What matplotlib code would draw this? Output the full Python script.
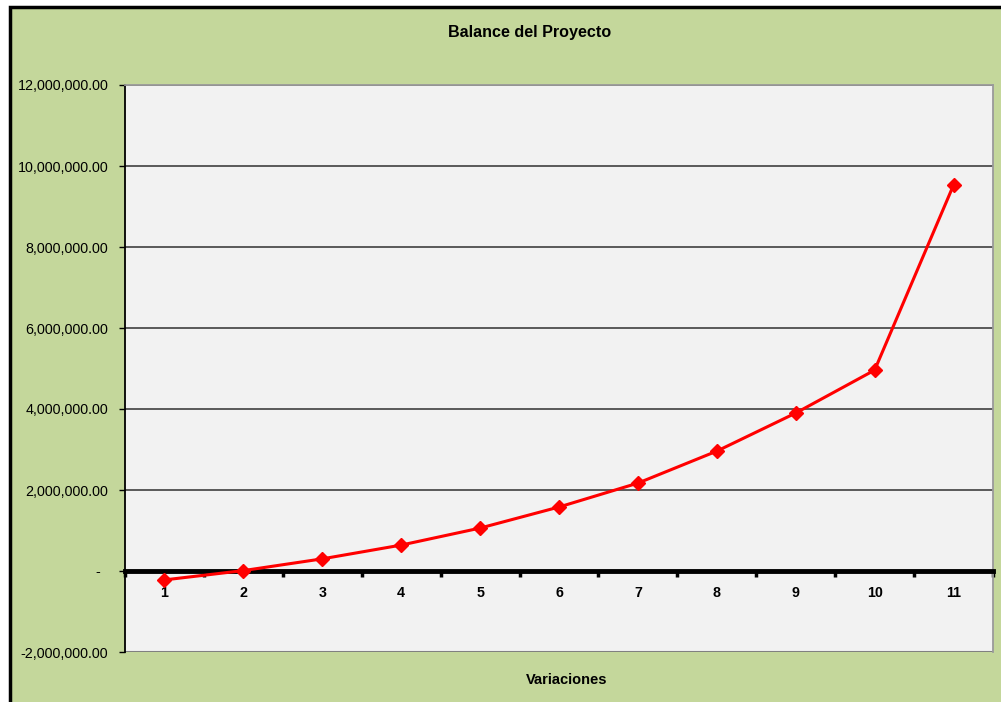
import matplotlib.pyplot as plt
import numpy as np
from matplotlib.patches import Rectangle
from matplotlib.ticker import FuncFormatter

plt.rcParams["font.family"] = ["Liberation Sans", "DejaVu Sans"]

variaciones = [1, 2, 3, 4, 5, 6, 7, 8, 9, 10, 11]
balance = [-220000, 10000, 300000, 640000, 1060000, 1580000,
           2170000, 2960000, 3900000, 4960000, 9530000]
y_ticks = [-2000000, 0, 2000000, 4000000, 6000000, 8000000, 10000000, 12000000]

GREEN = "#C4D79B"
PLOT_BG = "#F2F2F2"


def money(v, _pos):
    if abs(v) < 1:
        return "-  "
    return f"{v:,.2f}"


fig = plt.figure(figsize=(10.01, 7.02), dpi=100, facecolor="white")
fig.patches.append(Rectangle((10 / 1001, -0.05), 1.1, (702 - 7) / 702 + 0.05,
                             transform=fig.transFigure, facecolor=GREEN,
                             edgecolor="black", linewidth=2.5, zorder=-5))

ax = fig.add_axes([125 / 1001, 50 / 702, 868 / 1001, 567 / 702])
ax.set_zorder(3)
ax.set_facecolor(PLOT_BG)

ax.plot(variaciones, balance, color="#FF0000", linewidth=2.2, marker="D",
        markersize=7.5, zorder=5, clip_on=False)

ax.set_xlim(0.5, 11.5)
ax.set_ylim(-2000000, 12000000)
ax.set_yticks(y_ticks)
ax.yaxis.set_major_formatter(FuncFormatter(money))
ax.tick_params(axis="y", length=4, width=1, pad=8, labelsize=10.3, direction="out")

for v in y_ticks[2:]:
    ax.axhline(v, color="#303030", linewidth=1.1, zorder=1)
ax.axhline(-2000000, color="#808080", linewidth=1.5, zorder=1)

ax.spines["bottom"].set_position(("data", 0))
ax.spines["bottom"].set_linewidth(3.5)
ax.spines["bottom"].set_color("black")
ax.spines["bottom"].set_zorder(4)
ax.spines["left"].set_linewidth(1.3)
ax.spines["left"].set_color("black")
ax.spines["right"].set_color("#9A9A9A")
ax.spines["right"].set_linewidth(1.3)
ax.spines["top"].set_color("#9A9A9A")
ax.spines["top"].set_linewidth(1.3)

ax.set_xticks(variaciones)
ax.set_xticklabels([str(v) for v in variaciones], fontweight="bold", fontsize=10.3)
ax.set_xticks(np.arange(0.5, 12, 1), minor=True)
ax.tick_params(axis="x", which="major", length=0, pad=11)
ax.tick_params(axis="x", which="minor", length=4, width=2.5, direction="out")

fig.text(530 / 1001, 1 - 32 / 702, "Balance del Proyecto", ha="center", va="center",
         fontsize=11.6, fontweight="bold")
fig.text(567 / 1001, 1 - 680 / 702, "Variaciones", ha="center", va="center",
         fontsize=10.5, fontweight="bold")

fig.savefig("out.png", dpi=100, facecolor=fig.get_facecolor())
